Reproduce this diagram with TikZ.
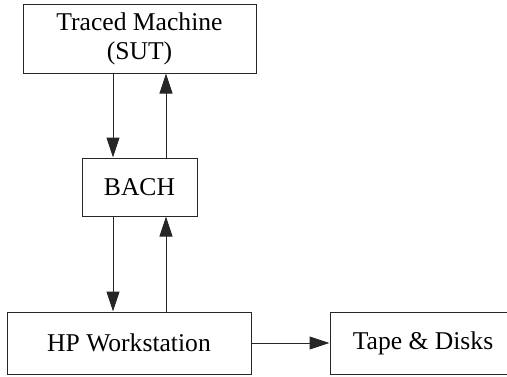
\documentclass[tikz,border=0pt]{standalone}
\usepackage{fontspec}
\setmainfont{Liberation Serif}
\usetikzlibrary{arrows.meta}
\begin{document}
\begin{tikzpicture}[x=1pt,y=1pt,
  box/.style={draw=black!85,line width=1pt,inner sep=0pt,align=center,
    font=\fontsize{25.6}{29}\selectfont},
  conn/.style={draw=black!85,line width=1pt,-{Triangle[length=20pt,width=13pt]}}]
\useasboundingbox (0,0) rectangle (507,376);
\node[box,minimum width=233pt,minimum height=68pt] (top) at (139.5,337) {Traced Machine\\(SUT)};
\node[box,minimum width=115pt,minimum height=58pt] (bach) at (139.5,189) {BACH};
\node[box,minimum width=244pt,minimum height=62pt] (hp) at (129,33) {HP Workstation};
\node[box,minimum width=186pt,minimum height=62pt] (tape) at (423,33) {Tape \& Disks};
\draw[conn] ([xshift=-26.5pt]top.south) -- ([xshift=-26.5pt]bach.north);
\draw[conn] ([xshift=26.5pt]bach.north) -- ([xshift=26.5pt]top.south);
\draw[conn] ([xshift=-26.5pt]bach.south) -- ([xshift=-26.5pt]bach.south |- hp.north);
\draw[conn] ([xshift=26.5pt]bach.south |- hp.north) -- ([xshift=26.5pt]bach.south);
\draw[conn] (hp.east) -- (tape.west);
\end{tikzpicture}
\end{document}
